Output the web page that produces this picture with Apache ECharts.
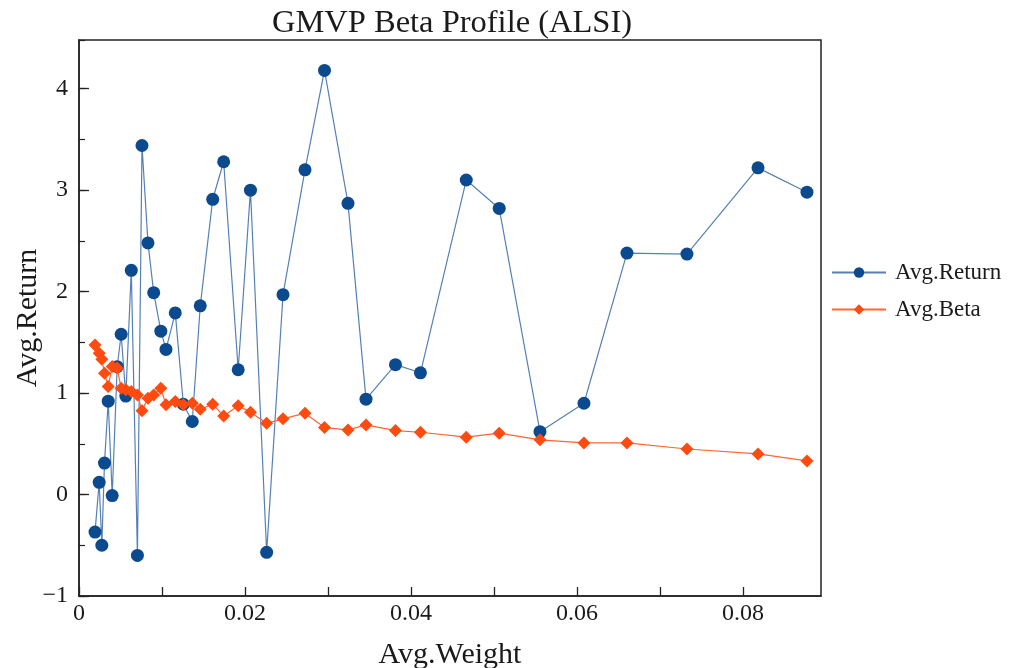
<!DOCTYPE html>
<html>
<head>
<meta charset="utf-8">
<script src="https://cdn.jsdelivr.net/npm/echarts@6/dist/echarts.min.js"></script>
<style>
  html, body { margin: 0; padding: 0; background: #ffffff; }
  #chart { width: 1015px; height: 668px; }
</style>
</head>
<body>
<div id="chart"></div>
<script>
// Portfolio average weights (x) shared by both series
const avgWeight = [
  0.00193, 0.00243, 0.00275, 0.00307, 0.00352, 0.00400, 0.00460, 0.00508, 0.00564, 0.00630,
  0.00704, 0.00759, 0.00831, 0.00900, 0.00986, 0.01048, 0.01160, 0.01257, 0.01365, 0.01461,
  0.01611, 0.01743, 0.01918, 0.02066, 0.02261, 0.02458, 0.02723, 0.02958, 0.03241, 0.03458,
  0.03813, 0.04114, 0.04666, 0.05063, 0.05554, 0.06084, 0.06602, 0.07325, 0.08181, 0.08771
];

// Average return for each weight bucket
const avgReturn = [
  -0.37, 0.12, -0.50, 0.31, 0.92, -0.01, 1.26, 1.58, 0.97, 2.21,
  -0.60, 3.44, 2.48, 1.99, 1.61, 1.43, 1.79, 0.89, 0.72, 1.86,
  2.91, 3.28, 1.23, 3.00, -0.57, 1.97, 3.20, 4.18, 2.87, 0.94,
  1.28, 1.20, 3.10, 2.82, 0.62, 0.90, 2.38, 2.37, 3.22, 2.98
];

// Average beta for each weight bucket
const avgBeta = [
  1.475, 1.393, 1.334, 1.196, 1.064, 1.261, 1.246, 1.048, 1.032, 1.015,
  0.982, 0.827, 0.950, 0.982, 1.048, 0.884, 0.916, 0.884, 0.900, 0.841,
  0.891, 0.775, 0.874, 0.812, 0.703, 0.746, 0.802, 0.660, 0.637, 0.686,
  0.630, 0.614, 0.565, 0.605, 0.539, 0.509, 0.509, 0.449, 0.400, 0.331
];

// Axis settings
const xMin = 0, xMax = 0.0894, xTickStep = 0.01, xLabelStep = 0.02;
const yMin = -1, yMax = 4.48, yMajorStep = 1, yMinorStep = 0.5;

const seriesNames = ['Avg.Return', 'Avg.Beta'];

const FONT = '"Liberation Serif", "Times New Roman", serif';
const INK = '#1a1a1a';

const chart = echarts.init(document.getElementById('chart'), null, { renderer: 'canvas' });

function pairs(ys) {
  return avgWeight.map((w, i) => [w, ys[i]]);
}

const option = {
  backgroundColor: '#ffffff',
  animation: false,
  title: {
    text: 'GMVP Beta Profile (ALSI)',
    left: 447,
    textAlign: 'center',
    top: 2,
    textStyle: { fontFamily: FONT, fontSize: 32.5, fontWeight: 'normal', color: INK }
  },
  legend: {
    orient: 'vertical',
    left: 826,
    top: 256,
    itemWidth: 54,
    itemHeight: 13,
    itemGap: 14,
    textStyle: { fontFamily: FONT, fontSize: 23, color: INK, padding: [0, 0, 0, 4] },
    data: seriesNames
  },
  grid: {
    left: 79, right: 194, top: 40, bottom: 72,
    outerBoundsMode: 'none',
    containLabel: false,
    show: true,
    borderColor: '#222',
    borderWidth: 1.5,
    backgroundColor: 'transparent'
  },
  xAxis: {
    type: 'value',
    min: xMin, max: xMax, interval: xTickStep,
    name: 'Avg.Weight',
    nameLocation: 'middle',
    nameGap: 44,
    nameMoveOverlap: false,
    nameTextStyle: { fontFamily: FONT, fontSize: 30, color: INK },
    axisLine: { show: true, onZero: false, lineStyle: { color: '#222', width: 1.5 } },
    axisTick: { show: true, inside: true, length: 9, lineStyle: { color: '#222', width: 1.3 } },
    axisLabel: {
      fontFamily: FONT, fontSize: 24, color: INK, margin: 6,
      showMaxLabel: false,
      formatter: function (v) {
        const k = v / xLabelStep;
        if (Math.abs(k - Math.round(k)) > 1e-6) return '';
        return String(+v.toFixed(2));
      }
    },
    splitLine: { show: false }
  },
  yAxis: [
    {
      type: 'value',
      position: 'left',
      min: yMin, max: yMax, interval: yMajorStep,
      name: 'Avg.Return',
      nameLocation: 'middle',
      nameGap: 36,
      nameMoveOverlap: false,
      nameTextStyle: { fontFamily: FONT, fontSize: 30, color: INK },
      axisLine: { show: true, onZero: false, lineStyle: { color: '#222', width: 1.5 } },
      axisTick: { show: true, inside: true, length: 10, lineStyle: { color: '#222', width: 1.3 } },
      axisLabel: {
        fontFamily: FONT, fontSize: 24, color: INK, margin: 11,
        showMaxLabel: false,
        formatter: function (v) {
          return v < 0 ? '\u2212' + Math.abs(v) : String(v);
        }
      },
      splitLine: { show: false }
    },
    {
      // half-unit ticks on the value axis
      type: 'value',
      position: 'left',
      min: yMin, max: yMax, interval: yMinorStep,
      axisLine: { show: false },
      axisTick: { show: true, inside: true, length: 6, lineStyle: { color: '#222', width: 1.2 } },
      axisLabel: { show: false },
      splitLine: { show: false }
    }
  ],
  series: [
    {
      name: seriesNames[0],
      type: 'line',
      yAxisIndex: 0,
      data: pairs(avgReturn),
      symbol: 'circle',
      symbolSize: 13,
      lineStyle: { color: '#5680b5', width: 1.2 },
      itemStyle: { color: '#0b4a8e' },
      z: 2
    },
    {
      name: seriesNames[1],
      type: 'line',
      yAxisIndex: 0,
      data: pairs(avgBeta),
      symbol: 'diamond',
      symbolSize: 13,
      lineStyle: { color: '#ff6633', width: 1.2 },
      itemStyle: { color: '#ff4a10' },
      z: 3
    }
  ]
};

chart.setOption(option);
</script>
</body>
</html>
